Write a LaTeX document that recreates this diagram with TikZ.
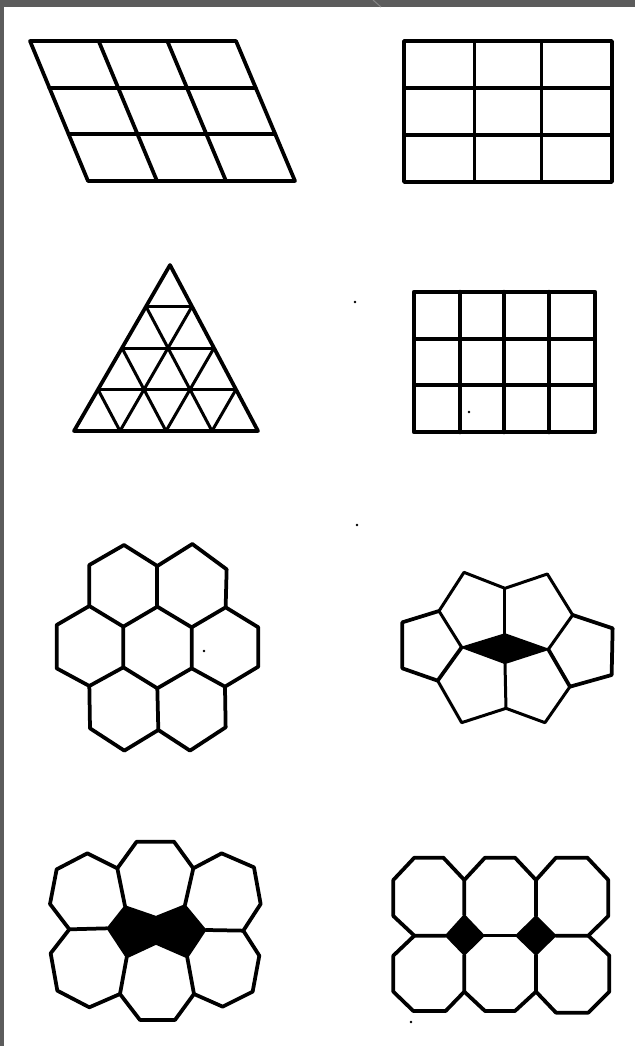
\documentclass[tikz,border=0pt]{standalone}
\usetikzlibrary{calc}
\tikzset{
    edge/.style={line width=0.075cm, line join=round, line cap=round},
    thinedge/.style={line width=0.06cm, line join=round, line cap=round},
    heavyedge/.style={line width=0.09cm, line join=round, line cap=round},
    blackface/.style={fill=black, draw=black, line width=0.03cm, line join=round},
    speck/.style={fill=black}
}
\begin{document}
\begin{tikzpicture}[x=0.02cm, y=-0.02cm]
    \definecolor{barColour}{HTML}{5C5C5C}
    \definecolor{notchColour}{HTML}{858585}

    \useasboundingbox (0,0) rectangle (635,1046);

    % frame of the page
    \fill[barColour] (0,0) rectangle (4,1046);
    \fill[barColour] (0,0) rectangle (635,7);
    \draw[notchColour, line width=0.02cm] (373,0) -- (381,7);

    % slanted grid
    \coordinate (PA) at (30,41);
    \coordinate (PB) at (236,41);
    \coordinate (PC) at (295,181);
    \coordinate (PD) at (88,181);
    \draw[edge] (PA) -- (PB) -- (PC) -- (PD) -- cycle;
    \foreach \i in {1,2} {
        \draw[edge] ($(PA)!\i/3!(PD)$) -- ($(PB)!\i/3!(PC)$);
        \draw[edge] ($(PA)!\i/3!(PB)$) -- ($(PD)!\i/3!(PC)$);
    }

    % grid of three by three
    \draw[edge] (404,41) rectangle (612,182);
    \foreach \x in {474,541}
        \draw[thinedge] (\x,41) -- (\x,182);
    \foreach \y in {88,135}
        \draw[edge] (404,\y) -- (612,\y);

    % triangles
    \coordinate (TA) at (170,265);
    \coordinate (TB) at (74,431);
    \coordinate (TC) at (258,431);
    \draw[edge] (TA) -- (TB) -- (TC) -- cycle;
    \foreach \i in {1,2,3} {
        \draw[thinedge] ($(TA)!\i/4!(TB)$) -- ($(TA)!\i/4!(TC)$);
        \draw[thinedge] ($(TB)!\i/4!(TA)$) -- ($(TB)!\i/4!(TC)$);
        \draw[thinedge] ($(TC)!\i/4!(TA)$) -- ($(TC)!\i/4!(TB)$);
    }

    % grid of four by three
    \draw[heavyedge] (414,292) rectangle (595,432);
    \foreach \x in {460,504,549}
        \draw[heavyedge] (\x,292) -- (\x,432);
    \foreach \y in {339,385}
        \draw[edge] (414,\y) -- (595,\y);

    % hexagons
    \begin{scope}[shift={(40,520)}, scale=0.3333]
        \draw[edge] (148,258) -- (148,135) -- (252,75) -- (352,138) -- (457,72) -- (560,148) -- (557,262);
        \draw[edge] (352,138) -- (352,260);
        \draw[edge] (148,258) -- (50,315) -- (50,445) -- (148,498) -- (250,442) -- (250,320) -- cycle;
        \draw[edge] (250,320) -- (352,260) -- (455,322) -- (557,262) -- (655,322) -- (655,440) -- (555,500) -- (455,445) -- (455,322);
        \draw[edge] (250,442) -- (352,505) -- (455,445);
        \draw[edge] (148,498) -- (150,625) -- (253,692) -- (355,630) -- (450,692) -- (557,622) -- (555,500);
        \draw[edge] (352,505) -- (355,630);
    \end{scope}

    % pentagons round a rhomb
    \begin{scope}[shift={(390,560)}, scale=0.3333]
        \draw[blackface] (215,262) -- (345,222) -- (475,268) -- (345,310) -- cycle;
        \draw[thinedge] (215,262) -- (147,153) -- (222,37) -- (345,85) -- (472,42) -- (548,165) -- (475,268);
        \draw[thinedge] (345,85) -- (345,222);
        \draw[edge] (147,153) -- (37,187) -- (37,325) -- (143,362) -- (215,262);
        \draw[edge] (548,165) -- (668,205) -- (665,345) -- (540,380) -- (475,268);
        \draw[thinedge] (143,362) -- (215,488) -- (348,445) -- (465,488) -- (540,380);
        \draw[thinedge] (345,310) -- (348,445);
    \end{scope}

    % heptagons round two black faces
    \begin{scope}[shift={(30,790)}, scale=0.3333]
        \draw[blackface] (285,348) -- (378,380) -- (465,345) -- (527,420) -- (472,503) -- (378,462) -- (290,503) -- (232,415) -- cycle;
        \draw[edge] (285,348) -- (262,235) -- (172,190) -- (80,238) -- (60,342) -- (118,418) -- (232,415);
        \draw[edge] (262,235) -- (320,155) -- (432,155) -- (490,235) -- (465,345);
        \draw[edge] (490,235) -- (575,190) -- (672,232) -- (692,342) -- (640,422) -- (527,420);
        \draw[edge] (118,418) -- (62,490) -- (82,602) -- (178,652) -- (270,612) -- (290,503);
        \draw[edge] (270,612) -- (330,690) -- (435,690) -- (492,612) -- (472,503);
        \draw[edge] (492,612) -- (578,650) -- (668,605) -- (688,497) -- (640,422);
    \end{scope}

    % octagons round two squares
    \begin{scope}[shift={(380,810)}, scale=0.3333]
        \draw[blackface] (253,315) -- (312,377) -- (253,435) -- (197,377) -- cycle;
        \draw[blackface] (468,318) -- (527,377) -- (468,435) -- (408,377) -- cycle;
        \draw[edge] (253,315) -- (253,210) -- (190,143) -- (103,143) -- (40,210) -- (40,318) -- (103,377) -- (197,377);
        \draw[edge] (253,210) -- (315,143) -- (405,143) -- (468,210) -- (468,318);
        \draw[edge] (468,210) -- (528,143) -- (622,143) -- (685,210) -- (685,318) -- (625,377) -- (527,377);
        \draw[thinedge] (312,377) -- (408,377);
        \draw[edge] (103,377) -- (40,437) -- (40,545) -- (100,603) -- (197,603) -- (253,545) -- (253,435);
        \draw[edge] (253,545) -- (315,603) -- (405,603) -- (468,545) -- (468,435);
        \draw[edge] (468,545) -- (528,608) -- (625,608) -- (688,545) -- (688,437) -- (625,377);
    \end{scope}

    % specks of the print
    \foreach \x/\y in {355/302, 357/525, 204/651, 411/1022, 469/412}
        \fill[speck] (\x,\y) circle (1.3);
\end{tikzpicture}
\end{document}
